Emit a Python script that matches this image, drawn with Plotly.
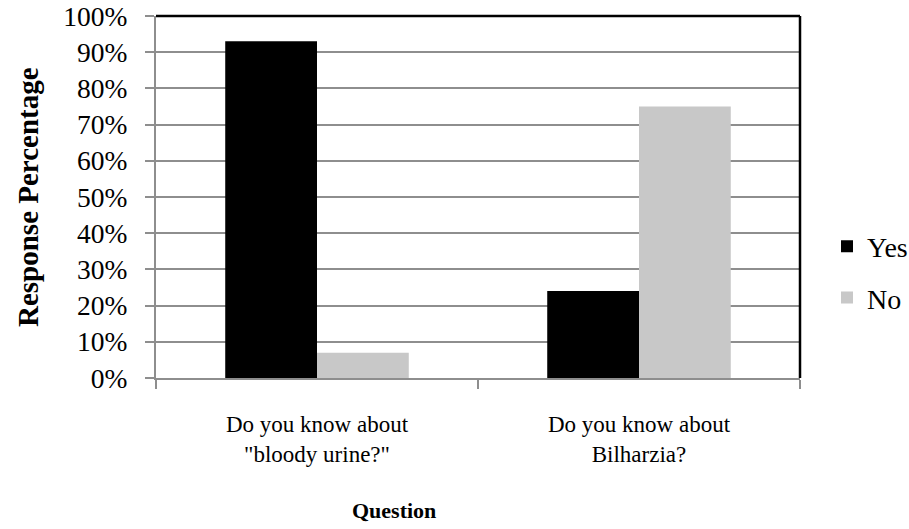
import plotly.graph_objects as go

# Survey responses per question
questions = ['Do you know about<br>"bloody urine?"', 'Do you know about<br>Bilharzia?']
yes_pct = [93, 24]
no_pct = [7, 75]
y_ticks = [0, 10, 20, 30, 40, 50, 60, 70, 80, 90, 100]
y_tick_text = [f"{v}%" for v in y_ticks]

SERIF = "Liberation Serif, Times New Roman, serif"
GRID = "#8e8e8e"

fig = go.Figure()
fig.add_trace(go.Bar(name="Yes", x=questions, y=yes_pct, marker_color="#000000",
                     marker_line_width=0, legendgroup="yes"))
fig.add_trace(go.Bar(name="No", x=questions, y=no_pct, marker_color="#c8c8c8",
                     marker_line_width=0, legendgroup="no"))

W, H = 909, 529
L, R, T, B = 156, 109, 16, 151
PW, PH = W - L - R, H - T - B

fig.update_layout(
    width=W, height=H,
    margin=dict(l=L, r=R, t=T, b=B, pad=0, autoexpand=False),
    plot_bgcolor="white", paper_bgcolor="white",
    barmode="group", bargap=0.43, bargroupgap=0,
    font=dict(family=SERIF, color="black"),
    showlegend=True,
    legend=dict(
        x=1 + 27 / PW, xanchor="left", y=(H - B - 272) / PH, yanchor="middle",
        font=dict(family=SERIF, size=28, color="black"),
        traceorder="grouped", tracegroupgap=12,
        itemwidth=30, bgcolor="rgba(0,0,0,0)",
    ),
    xaxis=dict(
        automargin=False,
        showline=True, linecolor=GRID, linewidth=2,
        ticks="outside", ticklen=9, tickcolor=GRID, tickwidth=2,
        tickson="boundaries",
        tickfont=dict(family=SERIF, size=23, color="black"),
        ticklabelstandoff=24,
        showgrid=False,
    ),
    yaxis=dict(
        automargin=False,
        range=[0, 100], tickmode="array", tickvals=y_ticks, ticktext=y_tick_text,
        showline=True, linecolor=GRID, linewidth=2,
        ticks="outside", ticklen=9, tickcolor=GRID, tickwidth=2,
        tickfont=dict(family=SERIF, size=27.5, color="black"),
        ticklabelstandoff=12,
        showgrid=True, gridcolor=GRID, gridwidth=1.5,
        zeroline=False,
    ),
)

# Black frame on the top and right of the plotting area
fig.add_shape(type="line", xref="paper", yref="paper", x0=0, x1=1, y0=1, y1=1,
              line=dict(color="black", width=2.5))
fig.add_shape(type="line", xref="paper", yref="paper", x0=1, x1=1, y0=0, y1=1,
              line=dict(color="black", width=2.5))

# Axis titles
fig.add_annotation(text="<b>Question</b>", xref="paper", yref="paper",
                   x=(394 - L) / PW, y=-(510 - (H - B)) / PH,
                   xanchor="center", yanchor="middle", showarrow=False,
                   font=dict(family=SERIF, size=22, color="black"))
fig.add_annotation(text="<b>Response Percentage</b>", xref="paper", yref="paper",
                   x=-(L - 28) / PW, y=0.5, textangle=-90,
                   xanchor="center", yanchor="middle", showarrow=False,
                   font=dict(family=SERIF, size=29, color="black"))

fig.write_html("out.html")
